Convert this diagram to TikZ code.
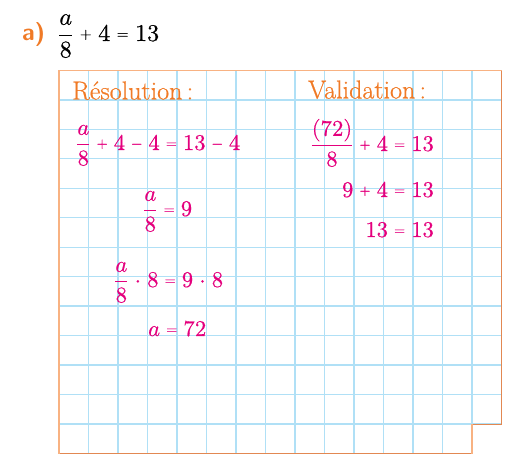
\documentclass[tikz,border=0pt]{standalone}
\usepackage{graphicx}
\usepackage{fontspec}
\usepackage{unicode-math}
\setmathfont{Latin Modern Math}[FakeBold=0.6]
\newfontfamily\titlefont{Latin Modern Roman}[FakeBold=0.6]
\definecolor{gridblue}{RGB}{176,224,246}
\definecolor{borderlight}{RGB}{248,178,130}
\definecolor{borderdark}{RGB}{226,136,82}
\definecolor{titleorange}{RGB}{240,122,38}
\definecolor{eqmagenta}{RGB}{228,0,125}
\medmuskip=5mu
\thickmuskip=5mu
\newcommand{\sop}[1]{\raisebox{0.1em}{\scalebox{0.62}{$#1$}}}
\newcommand{\pl}{\mathbin{\sop{+}}}
\newcommand{\mi}{\mathbin{\sop{-}}}
\newcommand{\eq}{\mathrel{\sop{=}}}
\tikzset{
  gridline/.style={draw=gridblue, line width=1.3pt},
  framelight/.style={draw=borderlight, line width=1.6pt, line cap=rect},
  framedark/.style={draw=borderdark, line width=1.3pt, line cap=rect},
  eqtext/.style={inner sep=0pt, text=eqmagenta, font=\fontsize{22.5}{27}\selectfont},
  headtext/.style={inner sep=0pt, text=titleorange, font=\fontsize{26}{30}\selectfont\titlefont},
  blacktext/.style={inner sep=0pt, text=black, font=\fontsize{24}{28}\selectfont},
  labeltext/.style={inner sep=0pt, text=titleorange, font=\fontsize{24}{28}\selectfont\sffamily\bfseries}
}
\begin{document}
\begin{tikzpicture}[x=1pt,y=-1pt]
\path[use as bounding box] (0,0) rectangle (509,462);
% grid
\foreach \k in {1,...,14} {
  \draw[gridline] ({59+29.5*\k},70.5) -- ({59+29.5*\k},453.4);
}
\foreach \k in {1,...,12} {
  \draw[gridline] (59,{70.5+29.45*\k}) -- (501.5,{70.5+29.45*\k});
}
% frame
\coordinate (tl) at (59,70.5);
\coordinate (tr) at (501.5,70.5);
\coordinate (nr) at (501.5,424.3);
\coordinate (nl) at (472,424.3);
\coordinate (br) at (472,453.4);
\coordinate (bl) at (59,453.4);
\draw[framedark] (tr) -- (nr) -- (nl);
\draw[framedark] (br) -- (bl);
\draw[framelight] (bl) -- (tl) -- (tr);
\draw[framelight] (nl) -- (br);
% header
\node[labeltext, anchor=base west] (lbl) at (22,41) {a)};
\node[blacktext, anchor=base west] (task) at (58,41) {$\displaystyle\frac{a}{8}\pl 4\eq 13$};
% titles
\node[headtext, anchor=base west] (res) at (72,99.5) {Résolution\,:};
\node[headtext, anchor=base west] (val) at (308,98.5) {Validation\,:};
% resolution
\node[eqtext, anchor=base west] (r1) at (76,150) {$\displaystyle\frac{a}{8}\pl 4\mi 4\eq 13\mi 4$};
\node[eqtext, anchor=base west] (r2) at (143,216) {$\displaystyle\frac{a}{8}\eq 9$};
\node[eqtext, anchor=base west] (r3) at (114,287) {$\displaystyle\frac{a}{8}\cdot 8\eq 9\cdot 8$};
\node[eqtext, anchor=base west] (r4) at (148,336) {$a\eq 72$};
% validation
\node[eqtext, anchor=base east] (v1) at (434,151) {$\displaystyle\frac{(72)}{8}\pl 4\eq 13$};
\node[eqtext, anchor=base east] (v2) at (434,197) {$9\pl 4\eq 13$};
\node[eqtext, anchor=base east] (v3) at (434,237) {$13\eq 13$};
\end{tikzpicture}
\end{document}
